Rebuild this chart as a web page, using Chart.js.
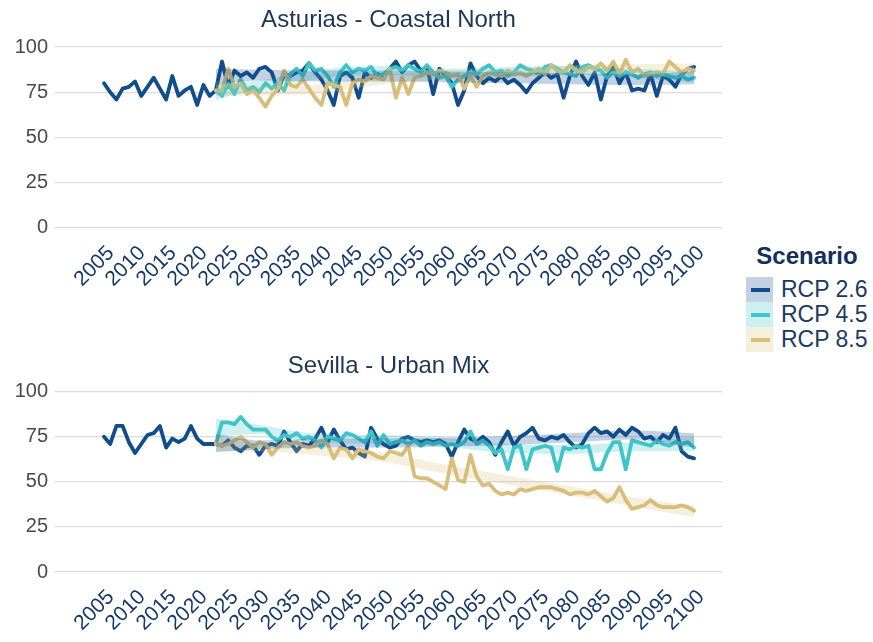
<!DOCTYPE html>
<html>
<head>
<meta charset="utf-8">
<script src="https://cdn.jsdelivr.net/npm/chart.js@4.4.1/dist/chart.umd.min.js"></script>
<style>
  html, body { margin: 0; padding: 0; background: #ffffff; }
  #wrap { position: relative; width: 873px; height: 642px; overflow: hidden;
          font-family: "Liberation Sans", Arial, sans-serif; }
  .panel { position: absolute; left: 0; width: 730px; height: 321px; }
  #p1 { top: 0; }
  #p2 { top: 321px; }
  .lg-title { position: absolute; left: 742px; width: 130px; top: 242px; text-align: center;
              font-weight: bold; font-size: 24px; line-height: 28px; color: #12305a; }
  .lg-key { position: absolute; left: 746px; width: 27px; height: 25px; }
  .lg-line { position: absolute; left: 5px; width: 19px; top: 11px; height: 3.5px; }
  .lg-label { position: absolute; left: 781px; font-size: 23px; line-height: 25px; color: #1b3a63; }
</style>
</head>
<body>
<div id="wrap">
  <canvas id="p1" class="panel" width="730" height="321"></canvas>
  <canvas id="p2" class="panel" width="730" height="321"></canvas>
  <div id="legend"></div>
</div>
<script>
// ---- scenarios ----
const scenarioNames  = ['RCP 2.6', 'RCP 4.5', 'RCP 8.5'];
const scenarioColors = ['#104d8a', '#3fc5c8', '#d9be7b'];
const ribbonAlpha = 0.25;

// ---- axes ----
const histStart = 2005;          // first observed year
const projStart = 2023;          // projections branch off here
const xTicks = [2005, 2010, 2015, 2020, 2025, 2030, 2035, 2040, 2045, 2050,
                2055, 2060, 2065, 2070, 2075, 2080, 2085, 2090, 2095, 2100];
const yGrid  = [0, 12.5, 25, 37.5, 50, 62.5, 75, 87.5, 100];
const trendYears = [2023, 2030, 2040, 2050, 2060, 2070, 2080, 2090, 2100];

// ---- Asturias - Coastal North ----
const astHist = [80, 75, 71, 77, 78, 81, 73, 78, 83, 77, 71, 84, 73, 76, 78, 68, 79, 73, 76];
const astRcp26 = [76, 92, 78, 87, 84, 86, 83, 88, 89, 86,
                  76, 85, 84, 86, 87, 91, 86, 82, 76, 68,
                  84, 86, 83, 72, 86, 83, 85, 84, 88, 92,
                  86, 90, 92, 87, 89, 74, 88, 84, 80, 68,
                  76, 91, 84, 80, 83, 81, 84, 80, 82, 79,
                  75, 80, 83, 86, 83, 85, 72, 84, 92, 84,
                  79, 86, 71, 84, 89, 80, 86, 76, 77, 76,
                  85, 73, 84, 82, 78, 85, 88, 89];
const astRcp45 = [76, 73, 80, 74, 82, 76, 78, 75, 80, 77,
                  80, 76, 85, 88, 84, 91, 87, 88, 84, 78,
                  86, 90, 86, 88, 87, 89, 84, 85, 88, 89,
                  87, 90, 88, 86, 90, 86, 83, 84, 78, 82,
                  84, 86, 85, 88, 90, 86, 87, 84, 86, 90,
                  88, 87, 85, 89, 90, 88, 86, 85, 84, 89,
                  90, 88, 87, 83, 86, 84, 86, 85, 83, 85,
                  86, 84, 85, 84, 83, 84, 82, 83];
const astRcp85 = [76, 76, 88, 78, 80, 74, 76, 72, 67, 73,
                  77, 87, 79, 78, 82, 77, 72, 68, 80, 79,
                  78, 68, 80, 82, 81, 84, 83, 82, 88, 72,
                  83, 74, 83, 84, 86, 85, 87, 86, 84, 85,
                  77, 84, 78, 84, 86, 85, 84, 87, 85, 86,
                  84, 86, 88, 85, 90, 87, 86, 90, 87, 86,
                  89, 88, 91, 87, 92, 85, 93, 86, 88, 84,
                  85, 86, 85, 92, 89, 86, 88, 87];
const astLo = [[79, 81.5, 81, 81, 80.5, 80, 79.5, 79, 79.5],
               [71, 76.5, 82.5, 84.5, 83, 84, 84.5, 83, 80.5],
               [73, 73.5, 74.5, 79.5, 82, 83, 85, 85.5, 85]];
const astHi = [[88, 87.5, 87, 87, 86.5, 86, 85.5, 85, 86.5],
               [79, 81.5, 87.5, 89.5, 88, 89, 89.5, 88, 86.5],
               [81, 78.5, 79.5, 84.5, 87, 88, 90, 90.5, 91]];

// ---- Sevilla - Urban Mix ----
const sevHist = [75, 71, 81, 81, 72, 66, 71, 76, 77, 81, 69, 74, 72, 74, 81, 74, 71, 71, 71];
const sevRcp26 = [71, 70, 73, 69, 67, 70, 70, 65, 70, 71,
                  70, 78, 72, 67, 71, 70, 74, 80, 72, 79,
                  73, 68, 69, 66, 64, 80, 74, 71, 69, 70,
                  74, 75, 73, 72, 73, 72, 73, 71, 64, 72,
                  79, 74, 72, 75, 72, 65, 72, 78, 70, 75,
                  77, 80, 74, 73, 75, 74, 76, 72, 69, 71,
                  77, 80, 77, 78, 75, 79, 76, 80, 78, 74,
                  75, 72, 76, 74, 80, 67, 64, 63];
const sevRcp45 = [71, 83, 83, 82, 86, 82, 79, 79, 79, 75,
                  73, 76, 75, 77, 74, 75, 73, 69, 75, 74,
                  73, 77, 76, 74, 72, 78, 70, 76, 71, 72,
                  73, 71, 73, 70, 72, 71, 72, 70, 71, 70,
                  72, 78, 71, 73, 70, 66, 68, 57, 69, 70,
                  57, 68, 69, 70, 69, 56, 69, 68, 70, 69,
                  70, 57, 57, 66, 72, 72, 57, 73, 72, 71,
                  70, 73, 71, 70, 72, 71, 72, 69];
const sevRcp85 = [71, 70, 71, 73, 75, 72, 69, 72, 71, 65,
                  69, 72, 71, 72, 70, 69, 70, 73, 71, 63,
                  69, 68, 63, 68, 67, 66, 64, 63, 67, 66,
                  65, 70, 53, 52, 52, 50, 48, 46, 63, 51,
                  50, 65, 53, 48, 49, 45, 43, 44, 43, 46,
                  45, 46, 47, 47, 47, 46, 45, 43, 44, 44,
                  43, 45, 42, 39, 41, 47, 40, 35, 36, 37,
                  40, 37, 36, 36, 36, 37, 36, 34];
const sevLo = [[66.5, 68, 69, 69, 69.5, 70.5, 72, 73.5, 69],
               [75, 76.5, 71.5, 71, 69.5, 66, 65.5, 67, 67],
               [67, 67, 64.5, 61, 54.5, 48.5, 42.5, 36.5, 30.5]];
const sevHi = [[76.5, 73, 74, 74, 74.5, 75.5, 77, 78.5, 77],
               [85, 81.5, 76.5, 76, 74.5, 71, 70.5, 72, 75],
               [75, 72, 69.5, 66, 59.5, 53.5, 47.5, 41.5, 36.5]];

// ---- helpers ----
const fontFamily = '"Liberation Sans", Arial, sans-serif';
Chart.defaults.font.family = fontFamily;
const lineWidth = 3.8;

function yearPoints(start, values) {
  return values.map((v, i) => ({ x: start + i, y: v }));
}
function pairPoints(xs, ys) {
  return xs.map((x, i) => ({ x: x, y: ys[i] }));
}
function withAlpha(hex, a) {
  const n = parseInt(hex.slice(1), 16);
  return `rgba(${(n >> 16) & 255},${(n >> 8) & 255},${n & 255},${a})`;
}

function buildPanel(canvasId, title, hist, series, lo, hi, layout) {
  const datasets = [];
  // observed record
  datasets.push({
    data: yearPoints(histStart, hist), borderColor: scenarioColors[0], borderWidth: lineWidth,
    pointRadius: 0, tension: 0, order: 5, fill: false,
    borderJoinStyle: 'round', borderCapStyle: 'round'
  });
  // scenario runs
  series.forEach((vals, k) => {
    datasets.push({
      label: scenarioNames[k], data: yearPoints(projStart, vals),
      borderColor: scenarioColors[k], borderWidth: lineWidth, pointRadius: 0, tension: 0,
      order: 4 - k, fill: false, borderJoinStyle: 'round', borderCapStyle: 'round'
    });
  });
  // smoothed trend bands, laid over the runs
  series.forEach((vals, k) => {
    datasets.push({
      data: pairPoints(trendYears, hi[k]), borderWidth: 0, pointRadius: 0,
      tension: 0.4, cubicInterpolationMode: 'monotone', order: 0,
      fill: '+1', backgroundColor: withAlpha(scenarioColors[k], ribbonAlpha)
    });
    datasets.push({
      data: pairPoints(trendYears, lo[k]), borderWidth: 0, pointRadius: 0,
      tension: 0.4, cubicInterpolationMode: 'monotone', order: 0, fill: false
    });
  });

  return new Chart(document.getElementById(canvasId), {
    type: 'line',
    data: { datasets },
    options: {
      responsive: false, animation: false, devicePixelRatio: 1,
      layout: { padding: { left: 0, right: 8, top: 0, bottom: 0 } },
      plugins: {
        legend: { display: false },
        tooltip: { enabled: false },
        title: {
          display: true, text: title, fullSize: false, color: '#1e3656',
          font: { size: 24, weight: 'normal', family: fontFamily },
          padding: { top: layout.titleTop, bottom: layout.titleBottom }
        }
      },
      scales: {
        x: {
          type: 'linear', min: 1997.11, max: 2104.5,
          afterBuildTicks: (axis) => { axis.ticks = xTicks.map(v => ({ value: v })); },
          afterFit: (axis) => { axis.height = layout.xHeight; },
          grid: { display: false, drawTicks: false },
          border: { display: false },
          ticks: {
            autoSkip: false, minRotation: 45, maxRotation: 45, padding: 4, labelOffset: 7,
            color: '#17396a', font: { size: 21, family: fontFamily },
            callback: (v) => String(v)
          }
        },
        y: {
          min: -5, max: 105,
          afterBuildTicks: (axis) => { axis.ticks = yGrid.map(v => ({ value: v })); },
          afterFit: (axis) => { axis.width = 55; },
          grid: { color: '#dcdcdc', lineWidth: 1.3, drawTicks: false },
          border: { display: false },
          ticks: {
            padding: 7, color: '#4a4a4a', font: { size: 20, family: fontFamily },
            callback: (v) => (v % 25 === 0 ? String(v) : '')
          }
        }
      }
    }
  });
}

buildPanel('p1', 'Asturias - Coastal North', astHist,
           [astRcp26, astRcp45, astRcp85], astLo, astHi,
           { titleTop: 5.6, titleBottom: 3.6, xHeight: 84 });
buildPanel('p2', 'Sevilla - Urban Mix', sevHist,
           [sevRcp26, sevRcp45, sevRcp85], sevLo, sevHi,
           { titleTop: 30.6, titleBottom: 2.3, xHeight: 61 });

// ---- legend ----
(function buildLegend() {
  const root = document.getElementById('legend');
  const t = document.createElement('div');
  t.className = 'lg-title';
  t.textContent = 'Scenario';
  root.appendChild(t);
  const keyTops = [277, 302, 327];
  scenarioNames.forEach((name, k) => {
    const key = document.createElement('div');
    key.className = 'lg-key';
    key.style.top = keyTops[k] + 'px';
    key.style.background = withAlpha(scenarioColors[k], ribbonAlpha);
    const ln = document.createElement('div');
    ln.className = 'lg-line';
    ln.style.background = scenarioColors[k];
    key.appendChild(ln);
    root.appendChild(key);
    const lab = document.createElement('div');
    lab.className = 'lg-label';
    lab.style.top = (keyTops[k]) + 'px';
    lab.textContent = name;
    root.appendChild(lab);
  });
})();
</script>
</body>
</html>
